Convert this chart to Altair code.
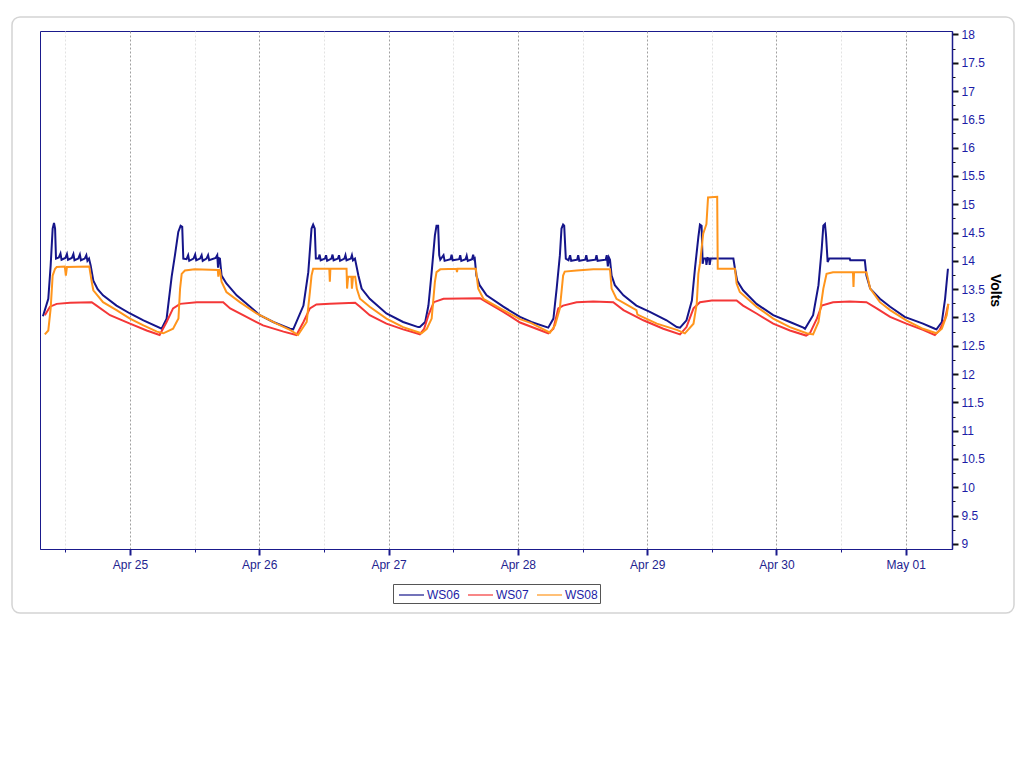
import altair as alt
import pandas as pd

# hours since 2024-04-24 00:00 (local) and volts
ws06_h = [7.85, 8.84, 9.28, 9.65, 9.9, 10.1, 10.27, 10.8, 11.1, 11.3, 12.0, 12.3, 12.5, 13.2, 13.5, 13.7,
          14.4, 14.7, 14.9, 15.6, 15.9, 16.1, 16.4, 16.7, 17.2, 18.0, 19.0, 21.5, 24.0, 26.5, 29.88,
          30.8, 31.74, 32.35, 32.97, 33.4, 33.7, 33.9, 34.5, 34.8, 35.0, 35.8, 36.1, 36.3, 37.0, 37.3, 37.5,
          38.2, 38.5, 38.7, 39.9, 40.2, 40.35, 40.5, 40.7, 41.0, 41.9, 43.8, 46.3, 48.1, 50.6, 53.7, 54.3,
          56.2, 57.1, 57.7, 58.0, 58.3, 58.5, 59.0, 59.2, 59.4, 60.2, 60.4, 60.6, 61.4, 61.6, 61.8, 62.6, 62.8,
          63.0, 63.8, 64.0, 64.2, 65.0, 65.2, 65.4, 65.76, 66.4, 67.0, 68.5, 71.6, 74.7, 77.5, 77.8,
          78.8, 79.4, 80.0, 80.6, 80.9, 81.2, 81.4, 81.6, 82.2, 82.4, 83.5, 83.7, 83.9, 85.1, 85.3, 85.5,
          86.3, 86.5, 86.7, 87.5, 87.7, 87.9, 88.0, 88.3, 88.9, 90.2, 93.3, 96.4, 98.5, 101.64,
          102.6, 103.2, 103.8, 104.1, 104.4, 104.6, 104.9, 105.4, 105.7, 105.9, 107.0, 107.2, 107.4, 108.5,
          108.7, 108.9, 110.4, 110.6, 110.8, 112.3, 112.5, 112.7, 112.9, 113.1, 113.4, 114.0, 115.6, 118.0,
          120.5, 123.6, 125.5, 126.1,
          127.3, 128.3, 128.9, 129.5, 129.8, 130.1, 130.3, 130.5, 130.9, 131.0, 131.2, 131.5, 131.6, 131.8,
          136.0, 136.3, 136.7, 137.8, 140.3, 143.4, 146.5, 149.0, 149.3,
          150.8, 151.8, 152.4, 152.7, 153.0, 153.2, 153.5, 153.8, 157.6, 157.7, 160.4, 160.7, 161.4, 163.2,
          165.1, 167.8, 171.2, 173.4, 173.7, 174.7, 175.3, 175.83]
ws06_v = [13.02, 13.33, 13.92, 14.57, 14.67, 14.57, 14.04, 14.06, 14.13, 14.02, 14.05, 14.12, 14.02, 14.05, 14.12, 14.01,
          14.04, 14.11, 14.01, 14.04, 14.10, 14.00, 14.04, 13.92, 13.65, 13.50, 13.39, 13.21, 13.07, 12.95, 12.80,
          12.98, 13.72, 14.10, 14.51, 14.62, 14.60, 14.04, 14.03, 14.10, 14.00, 14.04, 14.11, 14.01, 14.04, 14.10, 14.00,
          14.04, 14.10, 14.01, 14.05, 14.10, 13.88, 14.05, 14.04, 13.74, 13.60, 13.39, 13.19, 13.04, 12.92, 12.80, 12.79,
          13.21, 13.80, 14.57, 14.64, 14.57, 14.04, 14.04, 14.11, 14.01, 14.04, 14.10, 14.00, 14.04, 14.11, 14.01, 14.04, 14.10,
          14.00, 14.04, 14.10, 14.01, 14.04, 14.10, 14.01, 14.04, 13.74, 13.51, 13.33, 13.07, 12.92, 12.83, 12.83,
          12.92, 13.21, 13.80, 14.45, 14.62, 14.62, 14.10, 14.02, 14.10, 14.00, 14.03, 14.11, 14.01, 14.03, 14.10, 14.00,
          14.03, 14.09, 14.00, 14.03, 14.11, 14.03, 14.04, 13.74, 13.57, 13.39, 13.19, 13.01, 12.92, 12.82,
          12.98, 13.51, 14.10, 14.57, 14.64, 14.62, 14.04, 14.01, 14.10, 14.00, 14.02, 14.10, 14.00, 14.02,
          14.10, 14.00, 14.02, 14.10, 14.00, 14.02, 14.10, 13.90, 14.06, 14.02, 13.74, 13.57, 13.39, 13.21,
          13.10, 12.95, 12.83, 12.82,
          12.95, 13.30, 13.89, 14.42, 14.64, 14.62, 13.95, 14.04, 14.04, 13.93, 14.05, 14.04, 13.93, 14.04,
          14.04, 13.86, 13.65, 13.48, 13.24, 13.04, 12.92, 12.82, 12.80,
          13.04, 13.57, 14.21, 14.62, 14.65, 14.45, 13.98, 14.04, 14.04, 14.01, 14.01, 13.74, 13.51, 13.33,
          13.19, 13.01, 12.89, 12.80, 12.79, 12.92, 13.33, 13.86]

ws07_h = [8.2, 9.15, 10.4, 12.9, 16.9, 17.8, 20.3, 24.0, 27.1, 29.5,
          30.8, 32.0, 33.3, 36.4, 41.3, 42.6, 45.0, 48.7, 52.5, 54.9,
          56.2, 57.4, 58.6, 61.1, 65.8, 66.7, 68.5, 71.6, 74.7, 77.2, 77.8,
          78.6, 79.4, 80.4, 82.2, 88.96, 90.2, 93.3, 96.4,
          101.64, 102.6, 103.5, 104.4, 106.9, 110.0, 113.7, 115.6, 119.3, 123.0, 126.1,
          127.3, 128.6, 129.8, 132.0, 136.6, 137.8, 140.3, 143.4, 146.5, 149.5,
          150.2, 151.5, 152.4, 154.5, 157.6, 160.7, 162.6, 165.1, 168.1, 171.2, 173.4, 174.3, 175.3, 175.9]
ws07_v = [13.04, 13.19, 13.24, 13.26, 13.27, 13.21, 13.04, 12.89, 12.77, 12.69,
          12.92, 13.16, 13.24, 13.27, 13.27, 13.16, 13.04, 12.86, 12.75, 12.69,
          12.92, 13.16, 13.23, 13.24, 13.26, 13.19, 13.04, 12.89, 12.79, 12.72, 12.70,
          12.80, 13.04, 13.27, 13.33, 13.34, 13.27, 13.10, 12.91,
          12.72, 12.80, 13.16, 13.21, 13.27, 13.28, 13.27, 13.13, 12.95, 12.80, 12.70,
          12.83, 13.16, 13.27, 13.30, 13.30, 13.21, 13.07, 12.89, 12.77, 12.68,
          12.72, 12.98, 13.21, 13.27, 13.28, 13.27, 13.16, 13.01, 12.89, 12.78, 12.69, 12.78, 12.98, 13.24]

ws08_h = [8.2, 8.84, 9.28, 9.65, 10.1, 10.4, 11.9, 12.1, 12.3, 16.45, 16.9, 17.2, 19.0, 21.5, 24.0, 26.5, 29.0, 30.2,
          32.0, 33.0, 33.3, 33.6, 34.2, 36.0, 40.3, 40.4, 40.5, 40.7, 41.0, 41.9, 44.4, 47.5, 51.2, 53.7, 55.2,
          56.8, 57.4, 57.7, 58.0, 61.0, 61.1, 61.2, 64.2, 64.3, 64.5, 65.1, 65.2, 65.4, 65.8, 66.1, 66.7, 68.5,
          71.6, 74.7, 77.8, 78.1,
          79.1, 80.0, 80.6, 80.9, 81.6, 84.6, 84.7, 84.8, 88.2, 88.65, 89.6, 93.3, 96.4,
          98.5, 101.96, 102.9, 103.8, 104.4, 104.7, 106.9, 110.0, 113.1, 113.4, 114.3, 118.0, 118.2, 121.8, 125.5, 127.0,
          128.6, 129.2, 129.5, 129.8, 130.4, 131.0, 131.3, 133.0, 133.1, 136.3, 136.6, 137.2, 140.3, 143.4, 146.5, 149.6,
          150.8, 151.8, 152.7, 153.3, 154.5, 158.2, 158.3, 158.4, 160.7, 161.4, 163.2, 165.1, 168.1, 171.2, 173.7,
          174.7, 175.6, 175.9]
ws08_v = [12.70, 12.77, 13.16, 13.74, 13.86, 13.89, 13.90, 13.74, 13.89, 13.90, 13.63, 13.48, 13.27, 13.13, 12.98, 12.86, 12.75, 12.72,
          12.80, 12.98, 13.51, 13.77, 13.83, 13.85, 13.84, 13.72, 13.84, 13.84, 13.63, 13.45, 13.27, 13.07, 12.89, 12.78, 12.69,
          12.92, 13.45, 13.74, 13.86, 13.86, 13.63, 13.86, 13.86, 13.51, 13.72, 13.72, 13.51, 13.72, 13.72, 13.51, 13.33, 13.19,
          12.98, 12.83, 12.73, 12.72,
          12.80, 12.98, 13.63, 13.80, 13.85, 13.86, 13.80, 13.86, 13.86, 13.51, 13.33, 13.13, 12.97,
          12.90, 12.73, 12.86, 13.16, 13.74, 13.81, 13.83, 13.85, 13.85, 13.51, 13.33, 13.13, 13.05, 12.89, 12.78, 12.72,
          12.89, 13.24, 13.77, 13.95, 14.48, 14.65, 15.12, 15.13, 13.86, 13.86, 13.60, 13.45, 13.19, 12.98, 12.83, 12.72,
          12.70, 12.92, 13.51, 13.77, 13.80, 13.80, 13.54, 13.80, 13.80, 13.51, 13.27, 13.13, 12.95, 12.80, 12.72,
          12.80, 13.04, 13.24]

series_names = ["WS06", "WS07", "WS08"]
series_colors = ["#15158a", "#f43737", "#ff951c"]
y_ticks = [9 + 0.25 * i for i in range(37)]

start = pd.Timestamp("2024-04-24 00:00:00")
frames = []
for name, hs, vs in [("WS06", ws06_h, ws06_v), ("WS07", ws07_h, ws07_v), ("WS08", ws08_h, ws08_v)]:
    frames.append(pd.DataFrame({
        "time": [start + pd.Timedelta(hours=h) for h in hs],
        "volts": vs,
        "series": name,
    }))
df = pd.concat(frames, ignore_index=True)

x_vals = [alt.DateTime(year=2024, month=4, date=24 + (i // 2), hours=12 * (i % 2)) if 24 + (i // 2) <= 30
          else alt.DateTime(year=2024, month=5, date=24 + (i // 2) - 30, hours=12 * (i % 2))
          for i in range(1, 15)]

FONT = "Liberation Sans"
NAVY = "#1a1a8c"

frame = alt.Chart(pd.DataFrame({"a": [0]})).mark_rect(
    fill="transparent", stroke="#d4d4d4", strokeWidth=1.5, cornerRadius=8
).encode(x=alt.value(-28), x2=alt.value(974), y=alt.value(-14), y2=alt.value(582))

lines = alt.Chart(df).mark_line(strokeWidth=2).encode(
    x=alt.X("time:T", title=None,
            scale=alt.Scale(domain=[alt.DateTime(year=2024, month=4, date=24, hours=7, minutes=18),
                                    alt.DateTime(year=2024, month=5, date=1, hours=8, minutes=35)]),
            axis=alt.Axis(values=x_vals,
                          labelExpr="hours(datum.value) === 0 ? timeFormat(datum.value, '%b %d') : ''",
                          grid=True, gridDash=[2, 2],
                          gridColor={"condition": {"test": "hours(datum.value) === 0", "value": "#a0a0a0"}, "value": "#e2e2e2"},
                          tickColor=NAVY,
                          tickSize={"condition": {"test": "hours(datum.value) === 0", "value": 6}, "value": 3},
                          tickWidth={"condition": {"test": "hours(datum.value) === 0", "value": 2}, "value": 1},
                          domainColor=NAVY, labelColor="#23238f", labelFont=FONT, labelFontSize=12,
                          labelPadding=4, labelOverlap=False)),
    y=alt.Y("volts:Q", title="Volts",
            scale=alt.Scale(domain=[8.91, 18.06], nice=False, zero=False),
            axis=alt.Axis(orient="right", values=y_ticks, grid=False,
                          labelExpr="datum.value % 0.5 === 0 ? format(datum.value, '~g') : ''",
                          tickColor="#111111",
                          tickSize={"condition": {"test": "datum.value % 0.5 !== 0", "value": 3}, "value": 6},
                          tickWidth={"condition": {"test": "datum.value % 0.5 !== 0", "value": 1}, "value": 2},
                          domainColor=NAVY, domainWidth=1.5,
                          labelColor="#1c1ca6", labelFont=FONT, labelFontSize=12, labelPadding=3,
                          labelOverlap=False,
                          titleFont=FONT, titleFontSize=14, titleFontWeight="bold", titleColor="#000000",
                          titlePadding=3)),
    color=alt.Color("series:N", scale=alt.Scale(domain=series_names, range=series_colors),
                    legend=alt.Legend(title=None, orient="none", legendX=353, legendY=553,
                                      direction="horizontal", symbolType="M-0.625,0H2.5", symbolSize=256,
                                      symbolStrokeWidth=1.2, strokeColor="#555555", padding=2,
                                      labelFont=FONT, labelFontSize=12, labelColor="#1c1ca6",
                                      labelOffset=14, columnPadding=4)),
    order="time:T",
)

chart = alt.layer(frame, lines).properties(
    width=912, height=518,
    autosize=alt.AutoSizeParams(type="none"),
    padding={"left": 32, "top": 23, "right": 64, "bottom": 66},
).configure_view(stroke=NAVY, strokeWidth=1)

chart.save("out.html", embed_options={"renderer": "svg", "actions": False})
